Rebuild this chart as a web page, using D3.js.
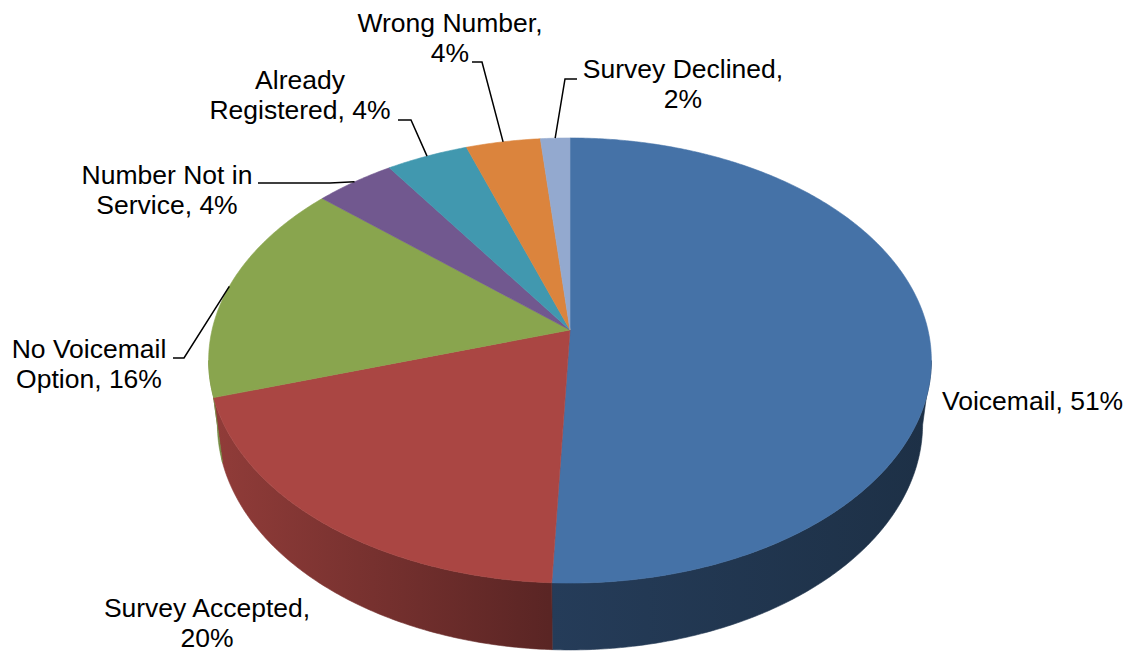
<!DOCTYPE html>
<html>
<head>
<meta charset="utf-8">
<script src="https://cdn.jsdelivr.net/npm/d3@7"></script>
<style>
  html, body { margin: 0; padding: 0; background: #ffffff; }
  svg { display: block; }
  text { font-family: "Liberation Sans", Arial, sans-serif; font-size: 26.5px; fill: #000; }
</style>
</head>
<body>
<svg id="chart" width="1128" height="652"></svg>
<script>
// ---- data ----
const categories = ["Voicemail", "Survey Accepted", "No Voicemail Option", "Number Not in Service",
                    "Already Registered", "Wrong Number", "Survey Declined"];
const values = [50.7, 19.5, 16.2, 4.1, 4.2, 3.8, 1.5];
const labelLines = [
  ["Voicemail, 51%"],
  ["Survey Accepted,", "20%"],
  ["No Voicemail", "Option, 16%"],
  ["Number Not in", "Service, 4%"],
  ["Already", "Registered, 4%"],
  ["Wrong Number,", "4%"],
  ["Survey Declined,", "2%"]
];
const colors = ["#4572A7", "#AA4643", "#89A54E", "#71588F", "#4198AF", "#DB843D", "#93A9CF"];

// ---- layout (label placement) ----
const labelLayout = [
  { x: 942, y: 410, anchor: "start", leader: null },
  { x: 207, y: 617, anchor: "middle", leader: null },
  { x: 89,  y: 358, anchor: "middle", leader: [[173, 358], [184, 358]] },
  { x: 167, y: 184, anchor: "middle", leader: [[258, 183], [330, 183]] },
  { x: 300, y: 89,  anchor: "middle", leader: [[398, 120], [411, 120]] },
  { x: 450, y: 32,  anchor: "middle", leader: [[472, 62], [482, 62]] },
  { x: 683, y: 78,  anchor: "middle", leader: [[577, 79], [565, 79]] }
];
const lineGap = 30;

// ---- 3D projection ----
const cx = 570, cy = 330;
const R = 1, D = 5.78, F = 2069;
const sinP = 0.61, cosP = Math.sqrt(1 - sinP * sinP);
const H = 0.231;
function proj(theta, h) {
  const X = R * Math.sin(theta), Z = R * Math.cos(theta);
  const v = Z * sinP + h * cosP;
  const depth = D + Z * cosP - h * sinP;
  return [cx + F * X / depth, cy - F * v / depth];
}
function arcPts(a0, a1, h) {
  const n = Math.max(2, Math.ceil(Math.abs(a1 - a0) / 0.01));
  return d3.range(n + 1).map(i => proj(a0 + (a1 - a0) * i / n, h));
}

const svg = d3.select("#chart");
const defs = svg.append("defs");
const line = d3.line();

const pie = d3.pie().sort(null).value(d => d);
const arcs = pie(values);

// silhouette angle range for the visible side wall
const thS = Math.acos(-cosP * R / D);
const visA = thS, visB = 2 * Math.PI - thS;

// wall gradients
colors.forEach((c, i) => {
  const g = defs.append("linearGradient")
    .attr("id", "wall" + i).attr("gradientUnits", "userSpaceOnUse")
    .attr("x1", 212).attr("x2", 930).attr("y1", 0).attr("y2", 0);
  const base = d3.rgb(c);
  const shade = k => d3.rgb(base.r * k, base.g * k, base.b * k).formatHex();
  g.append("stop").attr("offset", 0).attr("stop-color", shade(0.85));
  g.append("stop").attr("offset", 0.47).attr("stop-color", shade(0.53));
  g.append("stop").attr("offset", 1).attr("stop-color", shade(0.42));
});

// side walls
const wallG = svg.append("g");
arcs.forEach((a, i) => {
  const a0 = Math.max(a.startAngle, visA), a1 = Math.min(a.endAngle, visB);
  if (a1 <= a0) return;
  const top = arcPts(a0, a1, 0);
  const bot = arcPts(a0, a1, -H).reverse();
  wallG.append("path")
    .attr("d", line(top.concat(bot)) + "Z")
    .attr("fill", `url(#wall${i})`)
    .attr("stroke", `url(#wall${i})`).attr("stroke-width", 0.6);
});

// top faces
const topG = svg.append("g");
arcs.forEach((a, i) => {
  const pts = [[cx, cy]].concat(arcPts(a.startAngle, a.endAngle, 0));
  topG.append("path")
    .attr("d", line(pts) + "Z")
    .attr("fill", colors[i])
    .attr("stroke", colors[i]).attr("stroke-width", 0.6);
});

// leader lines
const leadG = svg.append("g");
arcs.forEach((a, i) => {
  const L = labelLayout[i];
  if (!L.leader) return;
  const mid = (a.startAngle + a.endAngle) / 2;
  const pts = L.leader.concat([proj(mid, 0)]);
  leadG.append("path")
    .attr("d", line(pts))
    .attr("fill", "none").attr("stroke", "#000").attr("stroke-width", 1.5);
});

// labels
const labG = svg.append("g");
labelLines.forEach((lines, i) => {
  const L = labelLayout[i];
  const t = labG.append("text").attr("text-anchor", L.anchor);
  lines.forEach((s, j) => {
    t.append("tspan").attr("x", L.x).attr("y", L.y + j * lineGap).text(s);
  });
});
</script>
</body>
</html>
